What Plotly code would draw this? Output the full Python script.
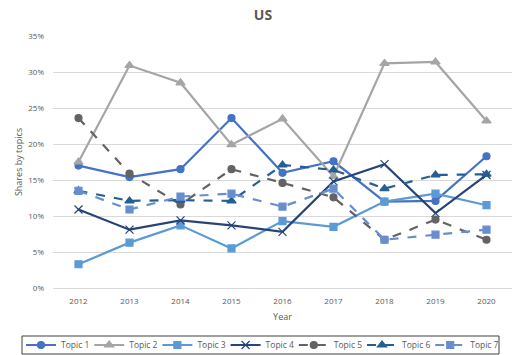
import plotly.graph_objects as go

years = [2012, 2013, 2014, 2015, 2016, 2017, 2018, 2019, 2020]

topic1 = [17.0, 15.4, 16.5, 23.6, 16.0, 17.6, 12.0, 12.1, 18.3]
topic2 = [17.5, 30.9, 28.5, 19.9, 23.5, 15.5, 31.2, 31.4, 23.2]
topic3 = [3.3, 6.3, 8.7, 5.5, 9.3, 8.5, 12.0, 13.1, 11.5]
topic4 = [10.9, 8.1, 9.4, 8.7, 7.8, 14.8, 17.2, 10.4, 15.7]
topic5 = [23.6, 15.9, 11.6, 16.5, 14.6, 12.6, 6.7, 9.5, 6.7]
topic6 = [13.5, 12.1, 12.2, 12.1, 17.1, 16.4, 13.8, 15.7, 15.8]
topic7 = [13.5, 10.9, 12.7, 13.1, 11.3, 13.8, 6.7, 7.4, 8.1]

series = [
    ("Topic 1", topic1, "#4472C4", "solid", "circle", 7),
    ("Topic 2", topic2, "#A5A5A5", "solid", "triangle-up", 8),
    ("Topic 3", topic3, "#5B9BD5", "solid", "square", 7),
    ("Topic 4", topic4, "#264478", "solid", "x-thin-open", 8),
    ("Topic 5", topic5, "#636363", "dash", "circle", 7),
    ("Topic 6", topic6, "#255E91", "dash", "triangle-up", 8),
    ("Topic 7", topic7, "#698ED0", "dash", "square", 7),
]

grey = "#595959"

fig = go.Figure()
legends = {}
# one legend per series, laid out as a single row along the bottom
for i, (name, vals, color, dash, symbol, size) in enumerate(series):
    key = "legend" if i == 0 else f"legend{i + 1}"
    fig.add_trace(go.Scatter(
        x=years, y=[v / 100 for v in vals], name=name, mode="lines+markers",
        line=dict(color=color, width=2.2, dash=dash),
        marker=dict(symbol=symbol, size=size, color=color,
                    line=dict(color=color, width=1.2)),
        legend=key,
    ))
    legends[key] = dict(orientation="h", xref="container", yref="container",
                        x=(21 + 68.2 * i) / 512, y=1 - 345 / 355,
                        xanchor="left", yanchor="middle",
                        bgcolor="rgba(0,0,0,0)", borderwidth=0,
                        font=dict(size=8.5, color=grey), itemwidth=30)

# frame around the legend row (plot area spans x 53..512, y 36..288 px)
px_w, px_h = 459, 252
fig.add_shape(type="rect", xref="paper", yref="paper",
              x0=(22 - 53) / px_w, x1=(499 - 53) / px_w,
              y0=(288 - 354) / px_h, y1=(288 - 336) / px_h,
              line=dict(color="#404040", width=1), fillcolor="rgba(0,0,0,0)")

fig.update_layout(
    width=512, height=355,
    margin=dict(l=53, r=0, t=36, b=67),
    paper_bgcolor="white", plot_bgcolor="white",
    font=dict(family="Open Sans, Arial, sans-serif", size=8, color=grey),
    title=dict(text="<b>US</b>", x=263 / 512, xref="container", xanchor="center",
               y=1 - 15 / 355, yref="container", yanchor="middle",
               font=dict(size=14, color=grey)),
    showlegend=True,
    xaxis=dict(range=[2011.5, 2020.5], tickmode="array", tickvals=years,
               ticktext=[str(y) for y in years], showgrid=False,
               showline=True, linecolor="#D9D9D9", linewidth=1, zeroline=False,
               ticklabelstandoff=5, tickfont=dict(size=8, color=grey),
               title=dict(text="Year", font=dict(size=9, color=grey), standoff=9)),
    yaxis=dict(range=[0, 0.35], tickvals=[0, 0.05, 0.1, 0.15, 0.2, 0.25, 0.3, 0.35],
               tickformat=".0%", showgrid=True, gridcolor="#D9D9D9", gridwidth=1,
               zeroline=False, showline=False, ticklabelstandoff=8,
               tickfont=dict(size=8, color=grey),
               title=dict(text="Shares by topics", font=dict(size=9, color=grey), standoff=4)),
    **legends,
)

fig.write_html("out.html")
